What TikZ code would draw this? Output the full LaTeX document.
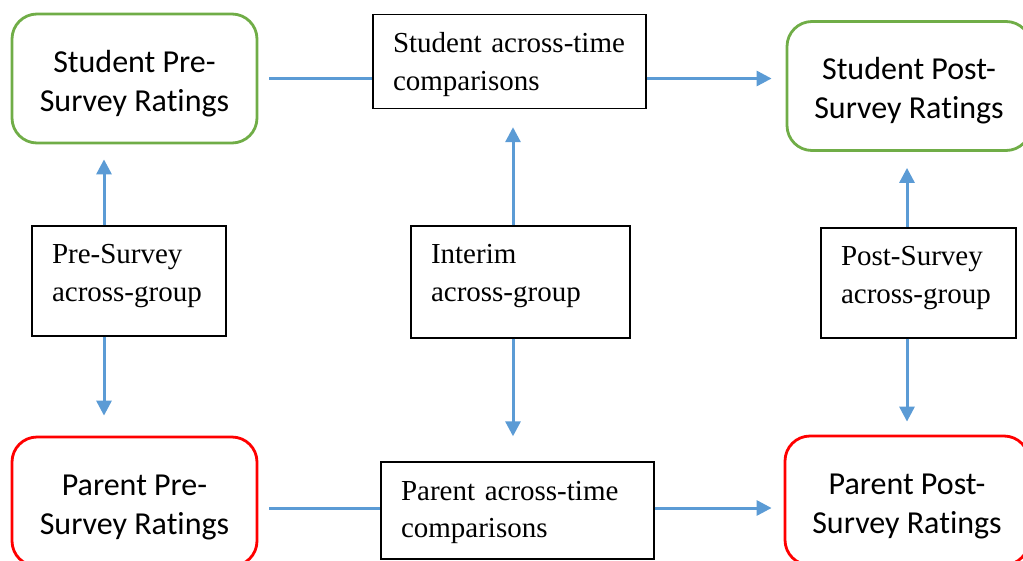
\documentclass[tikz,border=0pt]{standalone}
\usepackage{fontspec}
\usepackage{tikz}
\usetikzlibrary{arrows.meta, positioning}
\setmainfont{Liberation Serif}
\newfontfamily\ratingfont[Ligatures=NoCommon]{Carlito}
\definecolor{stugreen}{HTML}{70AD47}
\definecolor{parred}{HTML}{FF0000}
\definecolor{linkblue}{HTML}{5B9BD5}
\tikzset{
>={Triangle[length=15pt,width=15pt]}, % filled blue arrow heads
link/.style={draw=linkblue, line width=3pt}, % the blue connectors
rating/.style={draw, line width=2.8pt, rounded corners=25pt, minimum width=245pt, minimum height=129pt, align=center, text height=65pt, text depth=0pt, font=\ratingfont\fontsize{32}{39}\selectfont}, % survey rating boxes
student/.style={rating, draw=stugreen}, % student rows are green
parent/.style={rating, draw=parred}, % parent rows are red
compare/.style={draw, line width=1.4pt, inner xsep=20pt, align=left, text height=0pt, font=\fontsize{29}{37.5}\selectfont}, % comparison boxes
}

\begin{document}
\begin{tikzpicture}[x=1pt, y=-1pt]
\useasboundingbox (0,0) rectangle (1023,560);
\clip (0,0) rectangle (1023,560);
\node[student] (stpre) at (134.5,78.5) {Student Pre-\\Survey Ratings};
\node[student, minimum width=244pt] (stpost) at (909,86) {Student Post-\\Survey Ratings};
\node[parent] (parpre) at (134.5,501.5) {Parent Pre-\\Survey Ratings};
\node[parent, minimum width=244pt] (parpost) at (907,500.5) {Parent Post-\\Survey Ratings};
\node[compare, text width=233pt, minimum height=94pt, text depth=18pt] (sttime) at (509.5,61.5) {Student across-time\\comparisons};
\node[compare, text width=233pt, minimum height=97pt, text depth=21pt] (partime) at (517.5,510.5) {Parent across-time\\comparisons};
\node[compare, text width=154pt, minimum height=110pt, text depth=35pt] (presv) at (129,281) {Pre-Survey\\across-group};
\node[compare, text width=179pt, minimum height=112pt, text depth=37pt] (interim) at (520.5,282) {Interim\\across-group};
\node[compare, text width=155pt, minimum height=110pt, text depth=35pt] (postsv) at (918.5,283) {Post-Survey\\across-group};
\coordinate (pline) at (0,508);
\draw[link, shorten <=11pt] (stpre.east) -- (stpre.east -| sttime.west);
\draw[link, ->, shorten >=14pt] (sttime.east |- stpre.east) -- (stpost.west |- stpre.east);
\draw[link, shorten <=11pt] (parpre.east |- pline) -- (partime.west |- pline);
\draw[link, ->, shorten >=12pt] (partime.east |- pline) -- (parpost.west |- pline);
\draw[link, ->, shorten >=15pt] ([xshift=-25pt]presv.north) -- ([xshift=-25pt]presv.north |- stpre.south);
\draw[link, ->, shorten >=20pt] ([xshift=-25pt]presv.south) -- ([xshift=-25pt]presv.south |- parpre.north);
\draw[link, ->, shorten >=18pt] ([xshift=-7.5pt]interim.north) -- ([xshift=-7.5pt]interim.north |- sttime.south);
\draw[link, ->, shorten >=25pt] ([xshift=-7.5pt]interim.south) -- ([xshift=-7.5pt]interim.south |- partime.north);
\draw[link, ->, shorten >=16pt] ([xshift=-11.5pt]postsv.north) -- ([xshift=-11.5pt]postsv.north |- stpost.south);
\draw[link, ->, shorten >=13pt] ([xshift=-11.5pt]postsv.south) -- ([xshift=-11.5pt]postsv.south |- parpost.north);
\end{tikzpicture}
\end{document}
